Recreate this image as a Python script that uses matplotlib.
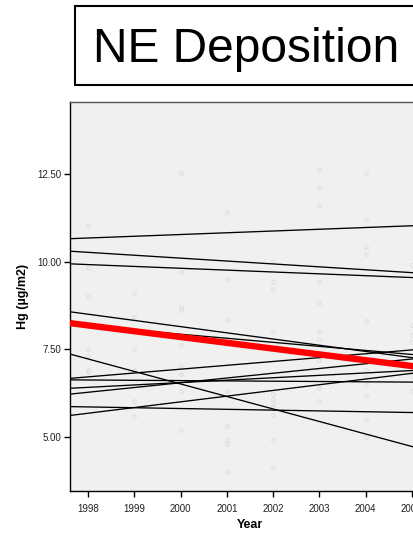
import matplotlib
matplotlib.use("Agg")
import matplotlib.pyplot as plt
from matplotlib.patches import Rectangle
import numpy as np

plt.rcParams['font.family'] = ['Liberation Sans', 'DejaVu Sans']

# ---- data ----
title = "NE Deposition"
x_label = "Year"
y_label = "Hg (µg/m2)"
year_ticks = [1998, 1999, 2000, 2001, 2002, 2003, 2004, 2005]
y_ticks = [5.00, 7.50, 10.00, 12.50]

# scatter points per year
pts_1998 = [11.02, 9.81, 9.01, 7.51, 7.30, 6.91, 6.84]
pts_1999 = [9.11, 8.41, 7.51, 6.91, 6.01, 5.60]
pts_2000 = [12.53, 9.71, 8.71, 8.61, 7.63, 7.03, 6.80, 6.31, 5.20]
pts_2001 = [11.42, 9.52, 8.33, 6.31, 5.30, 4.90, 4.78, 3.99]
pts_2002 = [10.02, 9.42, 9.21, 8.01, 6.22, 6.07, 5.96, 5.85, 5.62, 4.90, 4.10]
pts_2003 = [12.63, 12.12, 11.62, 9.42, 8.82, 8.01, 7.80, 7.20, 6.39, 6.01]
pts_2004 = [12.53, 11.22, 10.42, 10.21, 8.32, 6.91, 6.70, 6.50, 6.20, 5.51, 5.00]
pts_2005 = [9.92, 8.20, 7.92, 7.70, 6.72, 6.31]
points_by_year = [pts_1998, pts_1999, pts_2000, pts_2001,
                  pts_2002, pts_2003, pts_2004, pts_2005]

# site fit lines: value at 1998 and at 2005
site_1998 = [10.68, 10.27, 9.92, 8.50, 8.16, 7.22, 6.71, 6.62, 6.41, 6.27, 5.85, 5.67]
site_2005 = [11.03, 9.69, 9.55, 7.26, 7.35, 4.72, 7.48, 6.56, 6.89, 7.22, 5.69, 6.81]

# overall fit line
overall_1998 = 8.18
overall_2005 = 7.02

# ---- figure ----
W, H = 414, 533
fig = plt.figure(figsize=(W / 100, H / 100), dpi=100)
fig.patch.set_facecolor('white')

ax_l, ax_r, ax_t, ax_b = 70, 430, 102, 491
ax = fig.add_axes([ax_l / W, 1 - ax_b / H, (ax_r - ax_l) / W, (ax_b - ax_t) / H])
ax.set_facecolor('#F0F0F0')

x0, x1 = 1997.604, 2005.396
ax.set_xlim(x0, x1)
ax.set_ylim(3.446, 14.569)

# scatter
for yr, vals in zip(year_ticks, points_by_year):
    ax.plot([yr] * len(vals), vals, linestyle='none', marker='o',
            markersize=2.6, markerfacecolor='none', markeredgecolor='#DADADA',
            markeredgewidth=0.6, zorder=1)

# site lines
for a, b in zip(site_1998, site_2005):
    s = (b - a) / 7.0
    ax.plot([x0, x1], [a + s * (x0 - 1998), a + s * (x1 - 1998)],
            color='black', lw=0.95, zorder=2, solid_capstyle='butt')

# overall line
s = (overall_2005 - overall_1998) / 7.0
ax.plot([x0, x1], [overall_1998 + s * (x0 - 1998), overall_1998 + s * (x1 - 1998)],
        color='#FF0000', lw=4.6, zorder=3, solid_capstyle='butt')

ax.set_xticks(year_ticks)
ax.set_xticklabels([str(y) for y in year_ticks])
ax.set_yticks(y_ticks)
ax.set_yticklabels([f"{v:.2f}" for v in y_ticks])
ax.tick_params(axis='both', labelsize=7, labelcolor='#222222', color='black',
               length=4.3, width=1.0, direction='out')
ax.tick_params(axis='x', pad=5)
ax.tick_params(axis='y', pad=2)

for side in ['left', 'bottom']:
    ax.spines[side].set_color('black')
    ax.spines[side].set_linewidth(1.0)
ax.spines['top'].set_color('#555555')
ax.spines['top'].set_linewidth(1.0)
ax.spines['right'].set_visible(False)

ax.set_xlabel(x_label, fontsize=9, fontweight='bold', labelpad=4)
ax.set_ylabel(y_label, fontsize=9, fontweight='bold', labelpad=6)

# title box (extends past the right edge, as in the reference)
fig.add_artist(Rectangle((75 / W, 1 - 85 / H), 400 / W, 79 / H,
                         transform=fig.transFigure, facecolor='white',
                         edgecolor='black', linewidth=1.5))
fig.text(245.8 / W, 1 - 61.7 / H, title, fontsize=34.5, ha='center', va='baseline',
         color='black')

fig.savefig('out.png', dpi=100)
